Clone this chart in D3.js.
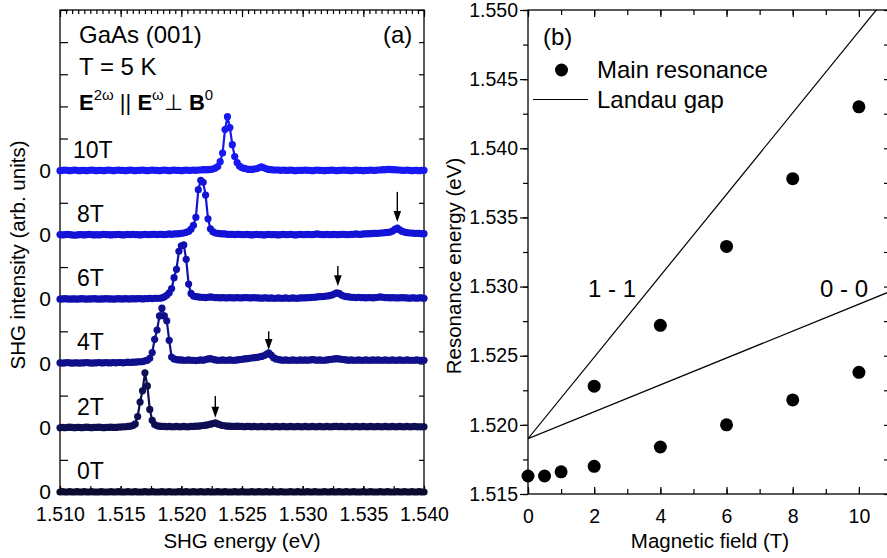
<!DOCTYPE html>
<html><head><meta charset="utf-8">
<script src="https://cdn.jsdelivr.net/npm/d3@7"></script>
<style>body{margin:0;background:#fff}svg{display:block}text{font-family:"Liberation Sans",Arial,Helvetica,sans-serif;fill:#000}</style>
</head><body><svg id="c" width="887" height="558"></svg>
<script>
// ---------- DATA: panel (a) spectra ----------
const energy = [
1.5100,1.5102,1.5104,1.5106,1.5108,1.5110,1.5112,1.5114,1.5116,1.5118,
1.5120,1.5122,1.5124,1.5126,1.5128,1.5130,1.5132,1.5134,1.5136,1.5138,
1.5140,1.5142,1.5144,1.5146,1.5148,1.5150,1.5152,1.5154,1.5156,1.5158,
1.5160,1.5162,1.5164,1.5166,1.5168,1.5170,1.5172,1.5174,1.5176,1.5178,
1.5180,1.5182,1.5184,1.5186,1.5188,1.5190,1.5192,1.5194,1.5196,1.5198,
1.5200,1.5202,1.5204,1.5206,1.5208,1.5210,1.5212,1.5214,1.5216,1.5218,
1.5220,1.5222,1.5224,1.5226,1.5228,1.5230,1.5232,1.5234,1.5236,1.5238,
1.5240,1.5242,1.5244,1.5246,1.5248,1.5250,1.5252,1.5254,1.5256,1.5258,
1.5260,1.5262,1.5264,1.5266,1.5268,1.5270,1.5272,1.5274,1.5276,1.5278,
1.5280,1.5282,1.5284,1.5286,1.5288,1.5290,1.5292,1.5294,1.5296,1.5298,
1.5300,1.5302,1.5304,1.5306,1.5308,1.5310,1.5312,1.5314,1.5316,1.5318,
1.5320,1.5322,1.5324,1.5326,1.5328,1.5330,1.5332,1.5334,1.5336,1.5338,
1.5340,1.5342,1.5344,1.5346,1.5348,1.5350,1.5352,1.5354,1.5356,1.5358,
1.5360,1.5362,1.5364,1.5366,1.5368,1.5370,1.5372,1.5374,1.5376,1.5378,
1.5380,1.5382,1.5384,1.5386,1.5388,1.5390,1.5392,1.5394,1.5396,1.5398,
1.5400];

const shg0T = [
0,.01,0,0,.01,0,0,.01,0,0,
.01,0,0,.01,0,0,0,.01,0,0,
0,.01,0,0,.01,0,0,0,.01,0,
0,.01,0,0,0,.01,0,0,.01,0,
0,0,.01,0,0,.01,0,0,0,.01,
0,0,.01,0,0,.01,0,0,.01,0,
0,.01,0,0,0,.01,0,0,.01,0,
0,0,.01,0,0,.01,0,0,0,.01,
0,0,.01,0,0,.01,0,0,.01,0,
0,.01,0,0,0,.01,0,0,.01,0,
0,0,.01,0,0,.01,0,0,0,.01,
0,0,.01,0,0,.01,0,0,.01,0,
0,.01,0,0,0,.01,0,0,.01,0,
0,0,.01,0,0,.01,0,0,0,.01,
0,0,.01,0,0,.01,0,0,.01,0,
0];
const shg2T = [
0,.01,0,.01,.02,.01,0,.01,.01,0,
.01,.02,.01,0,.01,.01,.02,.01,0,.01,
.01,.02,.01,.01,.02,.02,.03,.03,.04,.05,
.07,.12,.35,.8,1.15,1.71,1.3,.57,.23,.1,
.06,.05,.04,.04,.03,.04,.03,.03,.04,.03,
.03,.04,.03,.03,.04,.04,.05,.05,.06,.07,
.08,.09,.11,.13,.15,.12,.09,.07,.06,.05,
.05,.04,.04,.05,.04,.04,.03,.04,.04,.03,
.04,.03,.03,.04,.03,.03,.04,.03,.03,.04,
.03,.03,.04,.03,.03,.04,.03,.03,.04,.03,
.03,.04,.03,.03,.04,.03,.03,.04,.03,.03,
.04,.03,.03,.04,.04,.03,.04,.03,.03,.04,
.03,.03,.04,.03,.03,.04,.03,.03,.04,.03,
.03,.04,.03,.03,.04,.03,.03,.04,.03,.03,
.04,.03,.03,.04,.03,.03,.04,.03,.03,.03,
.03];
const shg4T = [
.02,.01,.02,.03,.02,.01,.02,.02,.01,.02,
.02,.03,.02,.01,.02,.02,.03,.02,.02,.03,
.02,.02,.03,.02,.03,.03,.02,.03,.04,.03,
.04,.04,.05,.05,.06,.08,.1,.16,.34,.75,
1.04,1.48,1.72,1.48,1.33,.72,.2,.14,.12,.11,
.11,.1,.1,.11,.1,.1,.09,.1,.11,.1,
.12,.14,.15,.13,.11,.1,.1,.11,.1,.1,
.11,.1,.1,.11,.12,.13,.14,.15,.16,.17,
.18,.19,.2,.22,.24,.28,.33,.26,.18,.14,
.12,.11,.1,.11,.1,.1,.11,.1,.1,.11,
.1,.11,.1,.11,.12,.11,.1,.11,.1,.1,
.11,.12,.13,.14,.15,.14,.13,.12,.11,.1,
.11,.1,.1,.11,.1,.1,.11,.1,.1,.11,
.1,.11,.1,.1,.11,.1,.1,.11,.1,.1,
.11,.1,.1,.11,.1,.1,.1,.11,.1,.1,
.1];
const shg6T = [
0,.01,.02,.01,0,.01,.01,0,.01,.02,
.01,0,.01,.01,.02,.01,0,.01,.01,.02,
.01,.01,0,.01,.02,.01,.01,.02,.01,.01,
.02,.01,.02,.02,.01,.02,.02,.03,.02,.03,
.03,.03,.04,.07,.12,.2,.33,.67,.93,1.49,
1.66,1.69,1.24,.47,.18,.1,.08,.07,.06,.06,
.05,.06,.07,.06,.05,.05,.04,.05,.04,.04,
.05,.04,.04,.05,.04,.04,.05,.05,.04,.04,
.05,.04,.04,.03,.04,.04,.03,.04,.03,.03,
.04,.03,.03,.04,.03,.03,.04,.03,.03,.04,
.04,.04,.05,.05,.06,.06,.07,.08,.08,.09,
.1,.11,.13,.16,.2,.18,.13,.1,.08,.07,
.06,.06,.05,.06,.05,.05,.04,.05,.05,.04,
.05,.06,.07,.06,.05,.05,.04,.05,.04,.04,
.04,.05,.04,.04,.03,.04,.04,.03,.04,.04,
.03];
const shg8T = [
.01,0,.01,.02,.01,0,-.01,0,.01,.01,
0,.01,.02,.01,0,.01,0,.01,.02,.01,
.01,0,.01,.01,.02,.01,0,.01,.02,.01,
.02,.01,.01,0,.01,.02,.01,.01,.02,.02,
.01,.02,.02,.01,.02,.03,.02,.03,.03,.04,
.05,.06,.08,.11,.18,.3,.55,1.41,1.7,1.64,
1.24,.5,.19,.1,.06,.05,.04,.03,.03,.02,
.02,.02,.01,.02,.02,.01,.01,.02,.01,0,
.01,.02,.01,.01,0,.01,.02,.01,.01,.01,
0,.01,.02,.01,.01,.02,.01,0,.01,.02,
.01,.01,.02,.01,.01,.02,.03,.02,.01,.01,
.02,.01,.01,.02,.01,.01,.02,.02,.01,.01,
.02,.02,.03,.02,.02,.03,.03,.04,.04,.05,
.05,.05,.06,.06,.07,.08,.09,.12,.17,.21,
.16,.11,.09,.07,.06,.06,.05,.05,.05,.04,
.04];
const shg10T = [
0,.01,.02,.01,0,.01,.02,.01,0,.01,
.01,0,.01,.02,.01,0,.01,.01,0,.01,
.02,.01,0,.01,.02,.01,.01,0,.01,.02,
.01,0,.01,.01,.02,.01,0,.01,.02,.01,
.01,0,.01,.02,.01,0,.01,.02,.01,.01,
0,.01,.02,.01,.01,.02,.01,.02,.02,.03,
.03,.03,.04,.05,.08,.13,.28,.55,1.28,1.68,
1.34,.81,.44,.25,.14,.09,.07,.05,.04,.04,
.05,.06,.09,.12,.09,.06,.04,.03,.02,.02,
.02,.01,.02,.01,.01,.02,.01,0,.01,.01,
.01,.02,.01,.01,0,.01,.02,.01,.01,0,
.01,.01,.02,.01,0,.01,.01,.02,.01,.01,
0,.01,.02,.01,.01,0,.01,.01,.02,.01,
.01,.02,.02,.03,.03,.04,.04,.03,.03,.02,
.02,.01,.01,.02,.01,0,.01,.01,0,.01,
.01];

const spectraLabels = ["0T","2T","4T","6T","8T","10T"];
const spectraOffsets = [0,2,4,6,8,10];
const spectraValues = [shg0T,shg2T,shg4T,shg6T,shg8T,shg10T];

// arrows marking the weak upper resonance (energy, tip level, tail level)
const arrowEnergy = [1.5228,1.5272,1.5329,1.5378];
const arrowTip = [2.31,4.42,6.40,8.40];
const arrowTail = [2.99,5.00,7.03,9.34];

const energyTicks = [1.510,1.515,1.520,1.525,1.530,1.535,1.540];
const offsetTicks = [0,2,4,6,8,10];

// ---------- DATA: panel (b) ----------
const fieldMain = [0,0.5,1,2,4,6,8,10];
const energyMain = [1.5163,1.5163,1.5166,1.5170,1.5184,1.5200,1.5218,1.5238];
const fieldUpper = [2,4,6,8,10];
const energyUpper = [1.5228,1.5272,1.5329,1.5378,1.5430];
const landauField = [0,11];
const landau00 = [1.5190,1.5297];
const landau11 = [1.5190,1.5514];
const fieldTicks = [0,2,4,6,8,10];
const resTicks = [1.515,1.520,1.525,1.530,1.535,1.540,1.545,1.550];

// ---------- STYLE ----------
const spectraColors = ["#0b0b2e","#0e0e52","#10108c","#1010b0","#1313d8","#1818f2"];
const FONT_TICK = 19.5, FONT_TITLE = 20.5, FONT_ANN = 24;

const svg = d3.select("#c");

// ================= Panel (a) =================
const xa = d3.scaleLinear().domain([1.510,1.540]).range([60,424]);
const ya = d3.scaleLinear().domain([0,15]).range([492,10]);
const gA = svg.append("g");

function styleAxis(g, fs){
  g.selectAll("path.domain").remove();
  g.selectAll(".tick line").attr("stroke","#000").attr("stroke-width",1.2);
  g.selectAll("text").attr("font-size",fs).attr("fill","#000")
   .attr("font-family","'Liberation Sans',Arial,sans-serif");
}

const minorA = d3.range(0,13).map(i=>1.510+0.0025*i);
gA.append("g").attr("transform","translate(0,492)")
  .call(d3.axisBottom(xa).tickValues(minorA).tickSize(-6).tickFormat(""))
  .call(g=>styleAxis(g,FONT_TICK));
gA.append("g").attr("transform","translate(0,492)")
  .call(d3.axisBottom(xa).tickValues(energyTicks).tickSize(-6).tickPadding(15).tickFormat(d3.format(".3f")))
  .call(g=>styleAxis(g,FONT_TICK));
const topMinor = d3.range(0,61).map(i=>1.510+0.0005*i);
gA.append("g").attr("transform","translate(0,10)")
  .call(d3.axisTop(xa).tickValues(topMinor).tickSize(-4).tickFormat(""))
  .call(g=>styleAxis(g,FONT_TICK));
gA.append("g").attr("transform","translate(0,10)")
  .call(d3.axisTop(xa).tickValues(energyTicks).tickSize(-7).tickFormat(""))
  .call(g=>styleAxis(g,FONT_TICK));
gA.append("g").attr("transform","translate(60,0)")
  .call(d3.axisLeft(ya).tickValues(d3.range(0,16)).tickSize(-8).tickFormat(""))
  .call(g=>styleAxis(g,FONT_TICK));
gA.append("g").attr("transform","translate(60,0)")
  .call(d3.axisLeft(ya).tickValues(offsetTicks).tickSize(0).tickPadding(9).tickFormat(()=>"0"))
  .call(g=>styleAxis(g,21));
gA.append("g").attr("transform","translate(424,0)")
  .call(d3.axisRight(ya).tickValues(d3.range(0,16)).tickSize(-5).tickFormat(""))
  .call(g=>styleAxis(g,FONT_TICK));
gA.append("rect").attr("x",60).attr("y",10).attr("width",364).attr("height",482)
  .attr("fill","none").attr("stroke","#000").attr("stroke-width",1.3);

// spectra
spectraValues.forEach((vals,k)=>{
  const pts = energy.map((e,i)=>({e, v: spectraOffsets[k]+vals[i]}));
  const col = spectraColors[k];
  const g = gA.append("g");
  g.append("path").datum(pts)
    .attr("d", d3.line().x(d=>xa(d.e)).y(d=>ya(d.v)))
    .attr("fill","none").attr("stroke",col).attr("stroke-width",2.2);
  g.selectAll("circle").data(pts).join("circle")
    .attr("cx",d=>xa(d.e)).attr("cy",d=>ya(d.v)).attr("r",3.6).attr("fill",col);
  gA.append("text").attr("x", k===5?73:77).attr("y", ya(spectraOffsets[k])-13)
    .attr("font-size",23).text(spectraLabels[k]);
});

// arrows
arrowEnergy.forEach((e,i)=>{
  const xx = xa(e), yTip = ya(arrowTip[i]), yTail = ya(arrowTail[i]);
  gA.append("line").attr("x1",xx).attr("x2",xx).attr("y1",yTail).attr("y2",yTip-6)
    .attr("stroke","#000").attr("stroke-width",1.4);
  gA.append("path").attr("d",`M${xx-3.8},${yTip-11} L${xx+3.8},${yTip-11} L${xx},${yTip} Z`)
    .attr("fill","#000");
});

// annotations
gA.append("text").attr("x",79).attr("y",43).attr("font-size",FONT_ANN).text("GaAs (001)");
gA.append("text").attr("x",79).attr("y",75).attr("font-size",FONT_ANN).text("T = 5 K");
gA.append("text").attr("x",383).attr("y",43).attr("font-size",FONT_ANN).text("(a)");
const pol = gA.append("text").attr("x",79).attr("y",110).attr("font-size",22);
pol.append("tspan").attr("font-weight","bold").text("E");
pol.append("tspan").attr("font-size",15).attr("dy",-10).text("2ω");
pol.append("tspan").attr("dy",10).text(" || ");
pol.append("tspan").attr("font-weight","bold").text("E");
pol.append("tspan").attr("font-size",15).attr("dy",-10).text("ω");
pol.append("tspan").attr("dy",10).text("⊥ ");
pol.append("tspan").attr("font-weight","bold").text("B");
pol.append("tspan").attr("font-size",15).attr("dy",-10).text("0");

svg.append("text").attr("x",242).attr("y",548).attr("text-anchor","middle")
  .attr("font-size",FONT_TITLE).text("SHG energy (eV)");
svg.append("text").attr("transform","translate(25,255) rotate(-90)").attr("text-anchor","middle")
  .attr("font-size",FONT_TITLE).text("SHG intensity (arb. units)");

// ================= Panel (b) =================
const xb = d3.scaleLinear().domain([0,11]).range([528,892]);
const yb = d3.scaleLinear().domain([1.515,1.550]).range([494,10]);
const gB = svg.append("g");

const bMinor = d3.range(0,12);
const eMinor = d3.range(0,15).map(i=>1.515+0.0025*i);
gB.append("g").attr("transform","translate(0,494)")
  .call(d3.axisBottom(xb).tickValues(bMinor).tickSize(-5).tickFormat(""))
  .call(g=>styleAxis(g,FONT_TICK));
gB.append("g").attr("transform","translate(0,494)")
  .call(d3.axisBottom(xb).tickValues(fieldTicks).tickSize(-7).tickPadding(15).tickFormat(d3.format("d")))
  .call(g=>styleAxis(g,FONT_TICK));
gB.append("g").attr("transform","translate(0,10)")
  .call(d3.axisTop(xb).tickValues(bMinor).tickSize(-5).tickFormat(""))
  .call(g=>styleAxis(g,FONT_TICK));
gB.append("g").attr("transform","translate(0,10)")
  .call(d3.axisTop(xb).tickValues(fieldTicks).tickSize(-7).tickFormat(""))
  .call(g=>styleAxis(g,FONT_TICK));
gB.append("g").attr("transform","translate(528,0)")
  .call(d3.axisLeft(yb).tickValues(eMinor).tickSize(5).tickFormat(""))
  .call(g=>styleAxis(g,FONT_TICK));
gB.append("g").attr("transform","translate(528,0)")
  .call(d3.axisLeft(yb).tickValues(resTicks).tickSize(8).tickPadding(2).tickFormat(d3.format(".3f")))
  .call(g=>styleAxis(g,FONT_TICK));
gB.append("g").attr("transform","translate(892,0)")
  .call(d3.axisRight(yb).tickValues(eMinor).tickSize(-8).tickFormat(""))
  .call(g=>styleAxis(g,FONT_TICK));
gB.append("rect").attr("x",528).attr("y",10).attr("width",364).attr("height",484)
  .attr("fill","none").attr("stroke","#000").attr("stroke-width",1.3);

svg.append("defs").append("clipPath").attr("id","clipB")
  .append("rect").attr("x",528).attr("y",10).attr("width",364).attr("height",484);

const lineB = d3.line().x(d=>xb(d[0])).y(d=>yb(d[1]));
[landau00, landau11].forEach(arr=>{
  gB.append("path").datum(landauField.map((b,i)=>[b,arr[i]]))
    .attr("clip-path","url(#clipB)")
    .attr("d",lineB).attr("fill","none").attr("stroke","#000").attr("stroke-width",1.2);
});

gB.selectAll("circle.m").data(fieldMain.map((b,i)=>[b,energyMain[i]])).join("circle")
  .attr("class","m").attr("cx",d=>xb(d[0])).attr("cy",d=>yb(d[1])).attr("r",6.5).attr("fill","#000");
gB.selectAll("circle.u").data(fieldUpper.map((b,i)=>[b,energyUpper[i]])).join("circle")
  .attr("class","u").attr("cx",d=>xb(d[0])).attr("cy",d=>yb(d[1])).attr("r",6.5).attr("fill","#000");

gB.append("text").attr("x",588).attr("y",297).attr("font-size",FONT_ANN).text("1 - 1");
gB.append("text").attr("x",820).attr("y",297).attr("font-size",FONT_ANN).text("0 - 0");

gB.append("text").attr("x",543).attr("y",45).attr("font-size",FONT_ANN).text("(b)");
gB.append("circle").attr("cx",561.5).attr("cy",70).attr("r",6.5).attr("fill","#000");
gB.append("text").attr("x",597).attr("y",78).attr("font-size",FONT_ANN).text("Main resonance");
gB.append("line").attr("x1",533).attr("x2",588).attr("y1",99.5).attr("y2",99.5)
  .attr("stroke","#000").attr("stroke-width",1.2);
gB.append("text").attr("x",597).attr("y",108).attr("font-size",FONT_ANN).text("Landau gap");

svg.append("text").attr("x",710).attr("y",548).attr("text-anchor","middle")
  .attr("font-size",FONT_TITLE).text("Magnetic field (T)");
svg.append("text").attr("transform","translate(461,266) rotate(-90)").attr("text-anchor","middle")
  .attr("font-size",FONT_TITLE).text("Resonance energy (eV)");
</script></body></html>
